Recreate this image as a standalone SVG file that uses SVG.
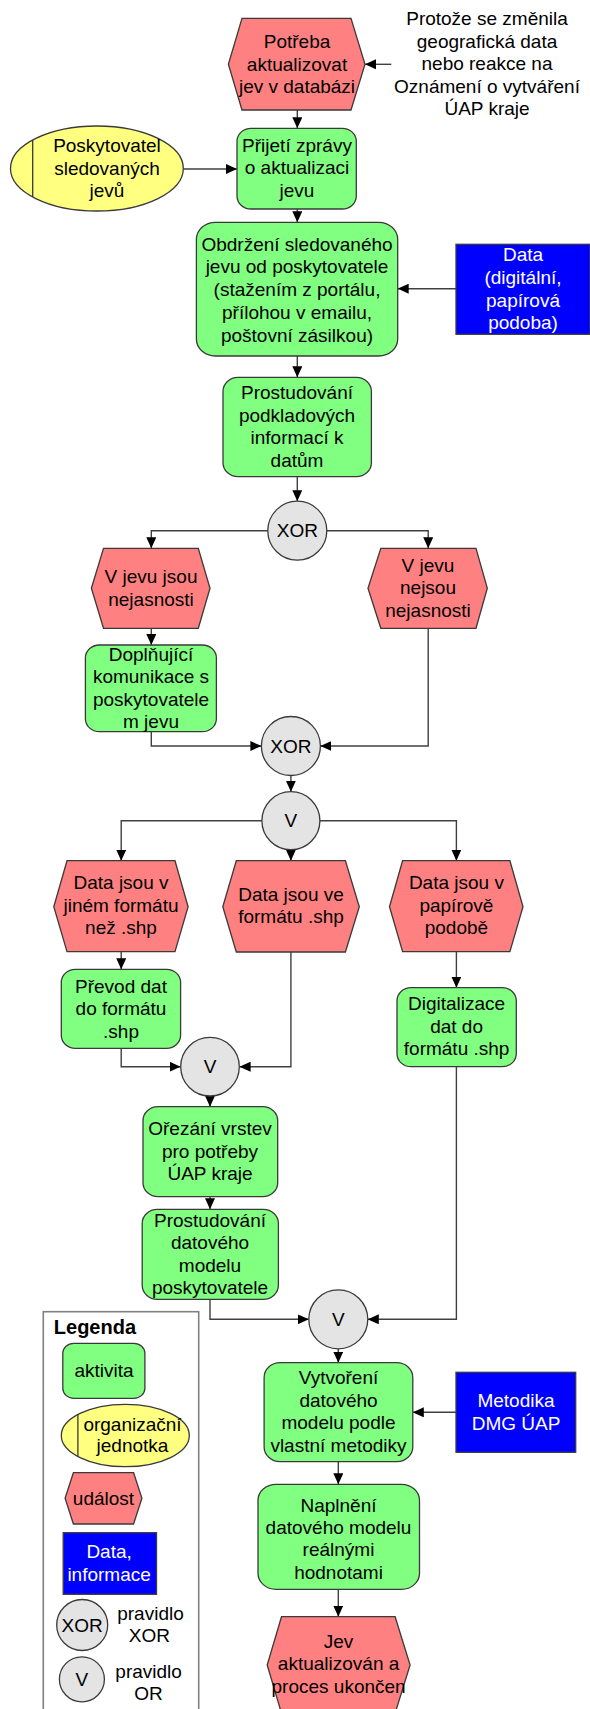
<svg xmlns="http://www.w3.org/2000/svg" width="590" height="1709" viewBox="0 0 590 1709">
  <style>
    text { font-family: "Liberation Sans", Arial, sans-serif; font-size: 19px; fill: #000; text-anchor: middle; }
    .act { fill: #80FF80; stroke: #3a3a3a; stroke-width: 1.3; }
    .evt { fill: #FF8080; stroke: #3a3a3a; stroke-width: 1.3; }
    .org { fill: #FFFF80; stroke: #3a3a3a; stroke-width: 1.3; }
    .dat { fill: #0000FF; stroke: #3a3a3a; stroke-width: 1.3; }
    .rule { fill: #E4E4E4; stroke: #3a3a3a; stroke-width: 1.3; }
    .sep { stroke: #3a3a3a; stroke-width: 1.3; fill: none; }
    .light { fill: #FFFFFF; }
    .conn path { fill: none; stroke: #404040; stroke-width: 1.4; marker-end: url(#arrow); }
  </style>
  <defs>
    <marker id="arrow" viewBox="0 0 11 10" refX="11" refY="5" markerWidth="11" markerHeight="10" markerUnits="userSpaceOnUse" orient="auto">
      <path d="M0,0 L11,5 L0,10 z" fill="#000"/>
    </marker>
  </defs>
  <rect width="590" height="1709" fill="#FFFFFF"/>

  <!-- connectors -->
  <g id="connectors" class="conn">
    <path d="M391.3,64.3 H365"/>
    <path d="M297.3,110 V128.3"/>
    <path d="M183.2,169 H237"/>
    <path d="M297.3,209 V222.3"/>
    <path d="M456,288.7 H397.7"/>
    <path d="M297.3,356 V377.3"/>
    <path d="M297.3,476.7 V501.2"/>
    <path d="M267.8,530.7 H151.3 V548.3"/>
    <path d="M326.8,530.7 H428.2 V548.3"/>
    <path d="M151.3,628.3 V645"/>
    <path d="M151.3,731.7 V746 H261.4"/>
    <path d="M428.2,628.3 V746 H320.4"/>
    <path d="M290.9,775.3 V791.7"/>
    <path d="M261.9,820.7 H121.2 V860.7"/>
    <path d="M290.9,849.7 V860.7"/>
    <path d="M319.9,820.7 H456.4 V860.7"/>
    <path d="M121.2,951.7 V969.3"/>
    <path d="M121.2,1048.3 V1066.7 H180.6"/>
    <path d="M290.9,952 V1066.7 H239.6"/>
    <path d="M210,1096.2 V1106.7"/>
    <path d="M456.4,951.7 V987.7"/>
    <path d="M210,1196.7 V1209.3"/>
    <path d="M210,1299.3 V1319.3 H308.8"/>
    <path d="M456.4,1066.7 V1319.3 H367.8"/>
    <path d="M338.3,1348.8 V1362.7"/>
    <path d="M456,1412.3 H412.8"/>
    <path d="M338.3,1461.7 V1484.3"/>
    <path d="M338.3,1589.3 V1616.7"/>
  </g>

  <!-- trigger note -->
  <g id="note-trigger">
    <text x="487" y="25">Protože se změnila<tspan x="487" dy="22.5">geografická data</tspan><tspan x="487" dy="22.5">nebo reakce na</tspan><tspan x="487" dy="22.5">Oznámení o vytváření</tspan><tspan x="487" dy="22.5">ÚAP kraje</tspan></text>
  </g>

  <g id="ev-potreba">
    <polygon class="evt" points="228.4,64.3 242,18.3 351,18.3 365,64.3 351,110 242,110"/>
    <text x="297" y="48.3">Potřeba<tspan x="297" dy="22.5">aktualizovat</tspan><tspan x="297" dy="22.5">jev v databázi</tspan></text>
  </g>

  <g id="org-poskytovatel">
    <ellipse class="org" cx="96.9" cy="168.5" rx="86.4" ry="42.5"/>
    <line class="sep" x1="32.7" y1="140.1" x2="32.7" y2="196.9"/>
    <text x="107" y="152.3">Poskytovatel<tspan x="107" dy="22.3">sledovaných</tspan><tspan x="107" dy="22.3">jevů</tspan></text>
  </g>

  <g id="act-prijeti">
    <rect class="act" x="237" y="128.3" width="119.3" height="80.7" rx="14" ry="13"/>
    <text x="297" y="151.6">Přijetí zprávy<tspan x="297" dy="22.8">o aktualizaci</tspan><tspan x="297" dy="22.5">jevu</tspan></text>
  </g>

  <g id="act-obdrzeni">
    <rect class="act" x="196.4" y="222.3" width="201.3" height="133.7" rx="19" ry="17"/>
    <text x="297" y="250.5">Obdržení sledovaného<tspan x="297" dy="22.8">jevu od poskytovatele</tspan><tspan x="297" dy="22.8">(stažením z portálu,</tspan><tspan x="297" dy="22.8">přílohou v emailu,</tspan><tspan x="297" dy="22.8">poštovní zásilkou)</tspan></text>
  </g>

  <g id="dat-data">
    <rect class="dat" x="456" y="244.3" width="134" height="90"/>
    <text class="light" x="523" y="261">Data<tspan x="523" dy="23">(digitální,</tspan><tspan x="523" dy="22.5">papírová</tspan><tspan x="523" dy="22">podoba)</tspan></text>
  </g>

  <g id="act-prostudovani-podkladu">
    <rect class="act" x="223" y="377.3" width="148.4" height="99.4" rx="15" ry="14"/>
    <text x="297" y="399.3">Prostudování<tspan x="297" dy="22.5">podkladových</tspan><tspan x="297" dy="22.5">informací k</tspan><tspan x="297" dy="22.5">datům</tspan></text>
  </g>

  <g id="xor-1">
    <circle class="rule" cx="297.3" cy="530.7" r="29.5"/>
    <text x="297.3" y="537.3">XOR</text>
  </g>

  <g id="ev-nejasnosti">
    <polygon class="evt" points="91.4,588.3 103.5,548.3 198.3,548.3 210,588.3 198.3,628.3 103.5,628.3"/>
    <text x="151" y="583.3">V jevu jsou<tspan x="151" dy="22.6">nejasnosti</tspan></text>
  </g>

  <g id="ev-bez-nejasnosti">
    <polygon class="evt" points="368,588.3 380.8,548.3 476,548.3 487.3,588.3 476,628.3 380.8,628.3"/>
    <text x="428" y="571.6">V jevu<tspan x="428" dy="22.5">nejsou</tspan><tspan x="428" dy="22.5">nejasnosti</tspan></text>
  </g>

  <g id="act-doplnujici">
    <rect class="act" x="85.4" y="645" width="131" height="86.7" rx="14" ry="13"/>
    <text x="151" y="660.6">Doplňující<tspan x="151" dy="22.5">komunikace s</tspan><tspan x="151" dy="22.5">poskytovatele</tspan><tspan x="151" dy="22.5">m jevu</tspan></text>
  </g>

  <g id="xor-2">
    <circle class="rule" cx="290.9" cy="746" r="29.5"/>
    <text x="290.9" y="752.6">XOR</text>
  </g>

  <g id="or-1">
    <circle class="rule" cx="290.9" cy="820.7" r="29"/>
    <text x="290.9" y="827.3">V</text>
  </g>

  <g id="ev-jiny-format">
    <polygon class="evt" points="53.8,906.7 67,860.7 175,860.7 188.1,906.7 175,951.7 67,951.7"/>
    <text x="121" y="889.3">Data jsou v<tspan x="121" dy="22.5">jiném formátu</tspan><tspan x="121" dy="22.5">než .shp</tspan></text>
  </g>

  <g id="ev-shp">
    <polygon class="evt" points="222.8,906.7 236.3,860.7 345.4,860.7 359.3,906.7 345.4,952 236.3,952"/>
    <text x="291" y="900.9">Data jsou ve<tspan x="291" dy="22.5">formátu .shp</tspan></text>
  </g>

  <g id="ev-papir">
    <polygon class="evt" points="389.5,906.7 402.6,860.7 509.9,860.7 523,906.7 509.9,951.7 402.6,951.7"/>
    <text x="456.4" y="889.3">Data jsou v<tspan x="456.4" dy="22.5">papírově</tspan><tspan x="456.4" dy="22.5">podobě</tspan></text>
  </g>

  <g id="act-prevod">
    <rect class="act" x="61.3" y="969.3" width="119.3" height="79" rx="14" ry="13"/>
    <text x="121" y="992.6">Převod dat<tspan x="121" dy="22.5">do formátu</tspan><tspan x="121" dy="22.5">.shp</tspan></text>
  </g>

  <g id="act-digitalizace">
    <rect class="act" x="397" y="987.7" width="119.3" height="79" rx="14" ry="13"/>
    <text x="456.6" y="1010">Digitalizace<tspan x="456.6" dy="22.5">dat do</tspan><tspan x="456.6" dy="22.5">formátu .shp</tspan></text>
  </g>

  <g id="or-2">
    <circle class="rule" cx="210" cy="1066.7" r="29.3"/>
    <text x="210" y="1073.3">V</text>
  </g>

  <g id="act-orezani">
    <rect class="act" x="143" y="1106.7" width="134.7" height="90" rx="15" ry="14"/>
    <text x="210" y="1135">Ořezání vrstev<tspan x="210" dy="22.5">pro potřeby</tspan><tspan x="210" dy="22.5">ÚAP kraje</tspan></text>
  </g>

  <g id="act-prostudovani-modelu">
    <rect class="act" x="142.2" y="1209.3" width="136.2" height="90" rx="15" ry="14"/>
    <text x="210" y="1226.6">Prostudování<tspan x="210" dy="22.5">datového</tspan><tspan x="210" dy="22.5">modelu</tspan><tspan x="210" dy="22.5">poskytovatele</tspan></text>
  </g>

  <g id="or-3">
    <circle class="rule" cx="338.3" cy="1319.3" r="29.5"/>
    <text x="338.3" y="1326">V</text>
  </g>

  <g id="act-vytvoreni">
    <rect class="act" x="264.1" y="1362.7" width="148.7" height="99" rx="16" ry="15"/>
    <text x="338.5" y="1384.3">Vytvoření<tspan x="338.5" dy="22.5">datového</tspan><tspan x="338.5" dy="22.5">modelu podle</tspan><tspan x="338.5" dy="22.5">vlastní metodiky</tspan></text>
  </g>

  <g id="dat-metodika">
    <rect class="dat" x="456" y="1372.3" width="119.7" height="80"/>
    <text class="light" x="516" y="1407.3">Metodika<tspan x="516" dy="22.2">DMG ÚAP</tspan></text>
  </g>

  <g id="act-naplneni">
    <rect class="act" x="258" y="1484.3" width="161.5" height="105" rx="18" ry="16"/>
    <text x="338.5" y="1511.5">Naplnění<tspan x="338.5" dy="22.4">datového modelu</tspan><tspan x="338.5" dy="22.4">reálnými</tspan><tspan x="338.5" dy="22.4">hodnotami</tspan></text>
  </g>

  <g id="ev-konec">
    <polygon class="evt" points="267.2,1665 281.5,1616.7 395.1,1616.7 410.1,1665 395.1,1713.3 281.5,1713.3"/>
    <text x="338.6" y="1647.6">Jev<tspan x="338.6" dy="22.5">aktualizován a</tspan><tspan x="338.6" dy="22.5">proces ukončen</tspan></text>
  </g>

  <!-- legend -->
  <g id="legend">
    <rect x="43.3" y="1311.7" width="155.4" height="420" fill="none" stroke="#808080" stroke-width="1.6"/>
    <text x="53.8" y="1334.3" style="font-weight:bold;font-size:20px;text-anchor:start">Legenda</text>
    <rect class="act" x="62.8" y="1343.3" width="82.1" height="55" rx="11" ry="10"/>
    <text x="104" y="1376.6">aktivita</text>
    <ellipse class="org" cx="125.3" cy="1435.5" rx="64" ry="31.2"/>
    <line class="sep" x1="77.9" y1="1414.5" x2="77.9" y2="1456.5"/>
    <text x="132.5" y="1430.6">organizační<tspan x="132.5" dy="21">jednotka</tspan></text>
    <polygon class="evt" points="65.1,1498.3 73.4,1472.7 133.6,1472.7 141.9,1498.3 133.6,1524 73.4,1524"/>
    <text x="103.5" y="1505">událost</text>
    <rect class="dat" x="63.2" y="1532.7" width="93.3" height="61.6"/>
    <text class="light" x="109.1" y="1558.3">Data,<tspan x="109.1" dy="22.6">informace</tspan></text>
    <circle class="rule" cx="82.2" cy="1625" r="25.5"/>
    <text x="82.2" y="1631.6">XOR</text>
    <text x="150.5" y="1620">pravidlo<tspan x="149.4" dy="21.6">XOR</tspan></text>
    <circle class="rule" cx="81.9" cy="1679.3" r="22.5"/>
    <text x="81.9" y="1686">V</text>
    <text x="148.6" y="1678.3">pravidlo<tspan x="148.6" dy="21.7">OR</tspan></text>
  </g>
</svg>
